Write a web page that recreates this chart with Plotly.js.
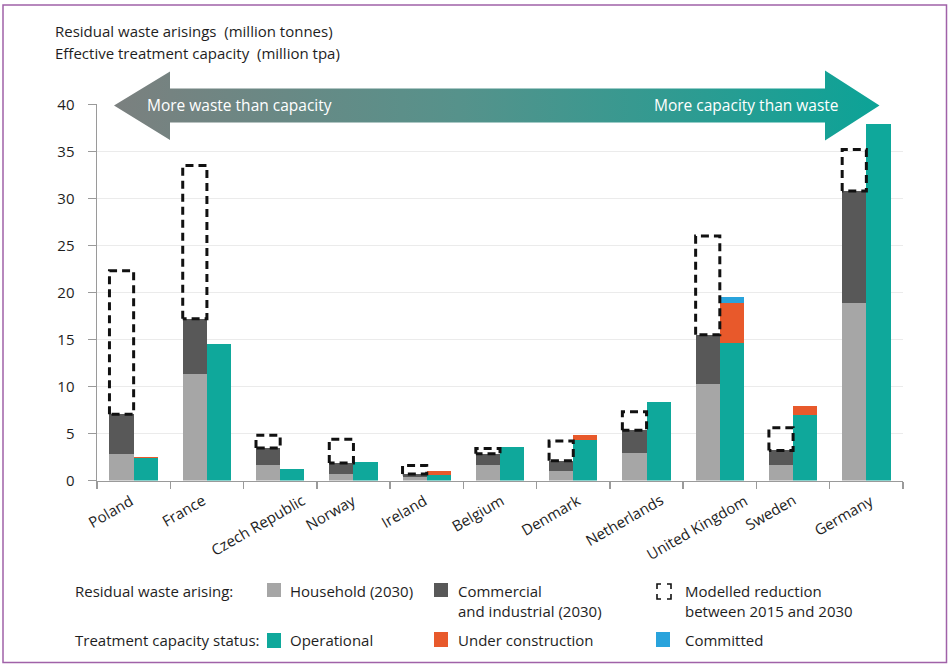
<!DOCTYPE html>
<html>
<head>
<meta charset="utf-8">
<script src="https://cdn.plot.ly/plotly-3.0.1.min.js"></script>
<style>
  html, body { margin: 0; padding: 0; background: #ffffff; }
  #chart { width: 949px; height: 665px; }
</style>
</head>
<body>
<div id="chart"></div>
<script>
// ---------- Data ----------
const countries = ['Poland', 'France', 'Czech Republic', 'Norway', 'Ireland', 'Belgium',
  'Denmark', 'Netherlands', 'United Kingdom', 'Sweden', 'Germany'];
// Residual waste arising (million tonnes)
const household = [2.85, 11.3, 1.6, 0.65, 0.35, 1.7, 1.0, 2.9, 10.3, 1.6, 18.9];
const commercialIndustrial = [4.2, 5.9, 1.85, 1.2, 0.35, 1.15, 1.1, 2.45, 5.2, 1.6, 11.9];
const modelledReduction = [15.25, 16.3, 1.35, 2.55, 0.9, 0.55, 2.1, 1.95, 10.5, 2.4, 4.4];
// Effective treatment capacity (million tpa)
const operational = [2.4, 14.5, 1.2, 1.95, 0.55, 3.6, 4.35, 8.4, 14.6, 6.95, 37.9];
const underConstruction = [0.15, 0, 0, 0, 0.45, 0, 0.5, 0, 4.3, 0.95, 0];
const committed = [0, 0, 0, 0, 0, 0, 0, 0, 0.6, 0, 0];
const yTicks = [0, 5, 10, 15, 20, 25, 30, 35, 40];

// ---------- Styling ----------
const FONT = 'Open Sans, sans-serif';
const TXT = '#1e1e1e';
const C_HH = '#a6a6a6', C_CI = '#585858', C_OP = '#0fa89b', C_UC = '#e8592b', C_CM = '#29a3dc';
const BW = 0.33;           // bar width in category units
const idx = countries.map((_, i) => i);
const wasteX = idx.map(i => i - BW / 2);
const capX = idx.map(i => i + BW / 2);

// dashed outline of the modelled reduction, stacked on top of the 2030 waste
const dashX = [], dashY = [];
idx.forEach(i => {
  const base = household[i] + commercialIndustrial[i];
  const top = base + modelledReduction[i];
  const x0 = wasteX[i] - BW / 2, x1 = wasteX[i] + BW / 2;
  dashX.push(x0, x0, x1, x1, x0, null);
  dashY.push(base, top, top, base, base, null);
});

const barCommon = { type: 'bar', width: BW, hoverinfo: 'skip' };
const traces = [
  Object.assign({}, barCommon, { x: wasteX, y: household, name: 'Household (2030)', marker: { color: C_HH, line: { width: 0 } } }),
  Object.assign({}, barCommon, { x: wasteX, y: commercialIndustrial, name: 'Commercial and industrial (2030)', marker: { color: C_CI, line: { width: 0 } } }),
  Object.assign({}, barCommon, { x: capX, y: operational, name: 'Operational', marker: { color: C_OP, line: { width: 0 } } }),
  Object.assign({}, barCommon, { x: capX, y: underConstruction, name: 'Under construction', marker: { color: C_UC, line: { width: 0 } } }),
  Object.assign({}, barCommon, { x: capX, y: committed, name: 'Committed', marker: { color: C_CM, line: { width: 0 } } }),
  { type: 'scatter', mode: 'lines', x: dashX, y: dashY, name: 'Modelled reduction',
    line: { color: '#111111', width: 3, dash: '8px,5px' }, hoverinfo: 'skip', cliponaxis: false },
  // decorative double arrow (pixel coordinates on the full-figure overlay axes)
  { type: 'scatter', mode: 'lines', xaxis: 'x2', yaxis: 'y2', hoverinfo: 'skip',
    x: [114, 170, 170, 825, 825, 879.5, 825, 825, 170, 170, 114],
    y: [105.5, 71.5, 88.5, 88.5, 70.5, 105.5, 140.5, 122.5, 122.5, 140, 105.5],
    fill: 'toself', line: { width: 0, color: 'rgba(0,0,0,0)' },
    fillcolor: '#4f968e',
    fillgradient: { type: 'horizontal', colorscale: [[0, '#7b807f'], [0.45, '#56928b'], [1, '#0ca397']] } }
];

const W = 949, H = 665;
const plotL = 97, plotR = 903, plotTop = 104.4, plotBot = 480.5;

const shapes = [
  // outer frame
  { type: 'rect', xref: 'x2', yref: 'y2', x0: 3, x1: 946.5, y0: 5, y1: 662.5, line: { color: '#a062a8', width: 1.5 } },
  // legend swatches
  { type: 'rect', xref: 'x2', yref: 'y2', x0: 267, x1: 281, y0: 583, y1: 597, fillcolor: C_HH, line: { width: 0 } },
  { type: 'rect', xref: 'x2', yref: 'y2', x0: 434, x1: 448, y0: 583, y1: 597, fillcolor: C_CI, line: { width: 0 } },
  { type: 'path', xref: 'x2', yref: 'y2',
    path: 'M657,589 V584 H661 M667,584 H671 V589 M671,594 V599 H667 M661,599 H657 V594',
    line: { color: '#111', width: 1.6 } },
  { type: 'rect', xref: 'x2', yref: 'y2', x0: 267, x1: 281, y0: 633, y1: 648, fillcolor: C_OP, line: { width: 0 } },
  { type: 'rect', xref: 'x2', yref: 'y2', x0: 434, x1: 448, y0: 632, y1: 647, fillcolor: C_UC, line: { width: 0 } },
  { type: 'rect', xref: 'x2', yref: 'y2', x0: 656, x1: 670, y0: 632, y1: 647, fillcolor: C_CM, line: { width: 0 } }
];

function txt(text, x, y, opts) {
  return Object.assign({ text: text, x: x, y: y, xref: 'x2', yref: 'y2', showarrow: false,
    xanchor: 'left', yanchor: 'middle', font: { family: FONT, size: 15, color: TXT } }, opts || {});
}
const annotations = [
  txt('Residual waste arisings  (million tonnes)', 53, 31),
  txt('Effective treatment capacity  (million tpa)', 53, 53),
  txt('More waste than capacity', 145, 104.5, { font: { family: FONT, size: 15.5, color: '#ffffff' } }),
  txt('More capacity than waste', 841, 104.5, { xanchor: 'right', font: { family: FONT, size: 15.5, color: '#ffffff' } }),
  txt('Residual waste arising:', 73, 591),
  txt('Household (2030)', 288, 591),
  txt('Commercial', 456, 591),
  txt('and industrial (2030)', 456, 611),
  txt('Modelled reduction', 683, 591),
  txt('between 2015 and 2030', 683, 611),
  txt('Treatment capacity status:', 73, 640),
  txt('Operational', 288, 640),
  txt('Under construction', 456, 640),
  txt('Committed', 683, 640)
];
// category labels: rotated, centred a little left of each category (as in the original)
countries.forEach((c, i) => {
  annotations.push({ text: c, x: idx[i], xref: 'x', y: 487, yref: 'y2', showarrow: false,
    textangle: -30, xanchor: 'center', yanchor: 'top', xshift: -23,
    font: { family: FONT, size: 15, color: TXT } });
});

const boundaries = idx.map(i => i - 0.5).concat([countries.length - 0.5]);

const layout = {
  width: W, height: H,
  margin: { l: 0, r: 0, t: 0, b: 0, pad: 0 },
  paper_bgcolor: '#ffffff', plot_bgcolor: 'rgba(0,0,0,0)',
  showlegend: false, barmode: 'stack', bargap: 0,
  font: { family: FONT, size: 15, color: TXT },
  xaxis: {
    domain: [plotL / W, plotR / W], range: [-0.5, countries.length - 0.5], fixedrange: true,
    tickmode: 'array', tickvals: idx, ticktext: countries, showticklabels: false, ticks: '',
    showline: true, linecolor: '#9a9a9a', linewidth: 1.5, showgrid: false, zeroline: false,
    minor: { tickmode: 'array', tickvals: boundaries, ticks: 'outside', ticklen: 7, tickwidth: 1.5, tickcolor: '#9a9a9a', showgrid: false }
  },
  yaxis: {
    domain: [1 - plotBot / H, 1 - plotTop / H], range: [0, 40], fixedrange: true,
    tickmode: 'array', tickvals: yTicks, ticks: 'outside', ticklen: 8, tickwidth: 1.5, tickcolor: '#9a9a9a',
    ticklabelstandoff: 10,
    tickfont: { family: FONT, size: 15, color: TXT },
    showline: true, linecolor: '#9a9a9a', linewidth: 1.5,
    showgrid: true, gridcolor: '#ebebeb', gridwidth: 1.5, zeroline: false
  },
  xaxis2: { domain: [0, 1], range: [0, W], anchor: 'y2', visible: false, fixedrange: true },
  yaxis2: { domain: [0, 1], range: [H, 0], anchor: 'x2', visible: false, fixedrange: true },
  shapes: shapes,
  annotations: annotations
};

Plotly.newPlot('chart', traces, layout, { displayModeBar: false, staticPlot: true });
</script>
</body>
</html>
